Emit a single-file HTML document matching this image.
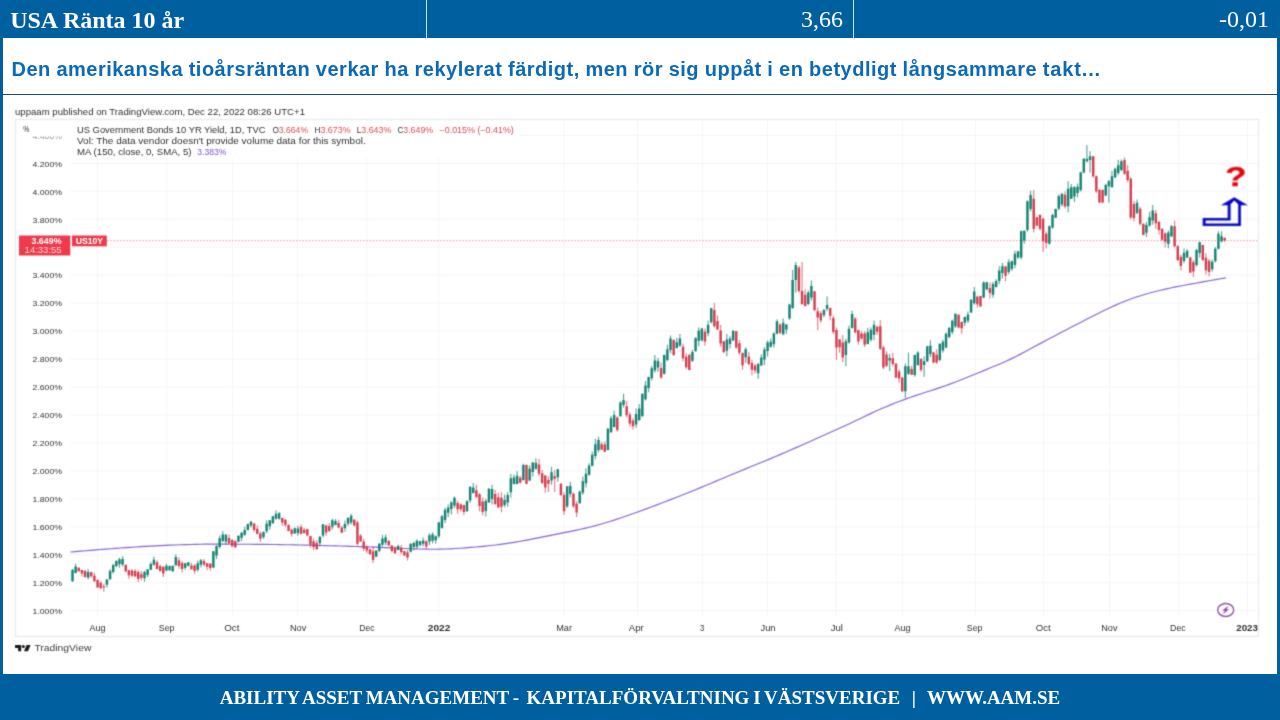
<!DOCTYPE html>
<html lang="sv">
<head>
<meta charset="utf-8">
<title>USA Ränta 10 år</title>
<style>
html,body{margin:0;padding:0}
body{width:1280px;height:720px;overflow:hidden;position:relative;background:#005f9f;font-family:"Liberation Serif","Times New Roman",serif}
.hd{position:absolute;top:0;height:38px;line-height:38px;color:#fff;font-size:24px;white-space:pre}
#t1{left:10.2px;font-weight:bold;transform:translateY(0.5px)}
#t2{right:437px;transform:translateY(0px)}
#t3{right:11px;transform:translateY(0px)}
.vl{position:absolute;top:0;width:1.5px;height:38px;background:#c6e6fa}
#main{position:absolute;left:3px;top:38px;width:1274px;height:636px;background:#fff}
#hl{position:absolute;left:11.5px;top:56px;transform:translateY(0.6px);word-spacing:-0.4px;margin:0;font:bold 20px/24px "Liberation Sans",Arial,sans-serif;color:#0a6ab8;white-space:pre;letter-spacing:0.52px}
#rule{position:absolute;left:3px;top:93.85px;width:1274px;height:1.25px;background:#1e4e78}
#ft{position:absolute;left:0;top:674px;width:1280px;height:46px;line-height:49px;text-align:center;color:#fff;font-weight:bold;font-size:19px;word-spacing:-0.95px;transform:translateY(-0.7px);white-space:pre}
</style>
</head>
<body>
<div class="hd" id="t1">USA Ränta 10 år</div>
<div class="hd" id="t2">3,66</div>
<div class="hd" id="t3">-0,01</div>
<div class="vl" style="left:425.9px"></div>
<div class="vl" style="left:852.65px"></div>
<div id="main"></div>
<h1 id="hl"><span style="letter-spacing:0.494px">Den amerikanska tioårsräntan verkar ha rekylerat färdigt, </span><span style="letter-spacing:0.505px">men rör sig uppåt i en betydligt långsammare </span><span style="letter-spacing:0.85px">takt...</span></h1>
<div id="rule"></div>
<svg width="1280" height="720" viewBox="0 0 1280 720" style="position:absolute;left:0;top:0" font-family="'Liberation Sans', Arial, sans-serif">
<defs><clipPath id="cl44"><rect x="20" y="136.6" width="50" height="6"/></clipPath><filter id="bl" x="0" y="0" width="1280" height="720" filterUnits="userSpaceOnUse" color-interpolation-filters="sRGB"><feConvolveMatrix order="3" kernelMatrix="1 4 1 4 16 4 1 4 1" edgeMode="none" preserveAlpha="false"/></filter><filter id="bx" x="0" y="0" width="1280" height="720" filterUnits="userSpaceOnUse" color-interpolation-filters="sRGB"><feConvolveMatrix order="3" kernelMatrix="1 5 1 5 25 5 1 5 1" edgeMode="none" preserveAlpha="false"/></filter><filter id="bt" x="1190" y="150" width="80" height="90" filterUnits="userSpaceOnUse" color-interpolation-filters="sRGB"><feConvolveMatrix order="3" kernelMatrix="1 2 1 2 4 2 1 2 1" edgeMode="none" preserveAlpha="false"/></filter></defs>
<g id="chart" filter="url(#bl)">
<rect x="15.5" y="119.5" width="1243" height="517" fill="none" stroke="#e9ebee" stroke-width="1.3"/>
<path d="M70 610.70H1258 M70 582.74H1258 M70 554.78H1258 M70 526.82H1258 M70 498.86H1258 M70 470.90H1258 M70 442.94H1258 M70 414.98H1258 M70 387.02H1258 M70 359.06H1258 M70 331.10H1258 M70 303.14H1258 M70 275.18H1258 M70 247.22H1258 M70 219.26H1258 M70 191.30H1258 M70 163.34H1258 M520 135.38H1258 M97.5 158V617 M167 158V617 M232.5 158V617 M297.5 158V617 M367 158V617 M439 158V617 M564 120V617 M637.5 120V617 M702.5 120V617 M767.5 120V617 M836.3 120V617 M902.5 120V617 M975.5 120V617 M1043.7 120V617 M1109.5 120V617 M1178.6 120V617 M1247.5 120V617" stroke="#f4f5f7" stroke-width="1" fill="none"/>
<path d="M107 240.7H1258" stroke="#e8606e" stroke-width="1" stroke-dasharray="1.5 1.7" fill="none" opacity="0.7"/>
<path d="M70.5 552.00 L75.5 551.58 L80.5 551.15 L85.5 550.73 L90.5 550.31 L95.5 549.91 L100.5 549.51 L105.5 549.12 L110.5 548.74 L115.5 548.36 L120.5 548.01 L125.5 547.66 L130.5 547.32 L135.5 547.00 L140.5 546.68 L145.5 546.37 L150.5 546.09 L155.5 545.83 L160.5 545.58 L165.5 545.35 L170.5 545.14 L175.5 544.95 L180.5 544.79 L185.5 544.64 L190.5 544.49 L195.5 544.36 L200.5 544.25 L205.5 544.18 L210.5 544.13 L215.5 544.10 L220.5 544.09 L225.5 544.10 L230.5 544.14 L235.5 544.17 L240.5 544.21 L245.5 544.25 L250.5 544.29 L255.5 544.33 L260.5 544.37 L265.5 544.41 L270.5 544.47 L275.5 544.54 L280.5 544.61 L285.5 544.70 L290.5 544.79 L295.5 544.89 L300.5 545.00 L305.5 545.12 L310.5 545.24 L315.5 545.36 L320.5 545.48 L325.5 545.61 L330.5 545.75 L335.5 545.89 L340.5 546.03 L345.5 546.18 L350.5 546.33 L355.5 546.48 L360.5 546.64 L365.5 546.81 L370.5 546.99 L375.5 547.17 L380.5 547.37 L385.5 547.59 L390.5 547.81 L395.5 548.05 L400.5 548.28 L405.5 548.50 L410.5 548.70 L415.5 548.89 L420.5 549.05 L425.5 549.19 L430.5 549.24 L435.5 549.22 L440.5 549.14 L445.5 549.01 L450.5 548.82 L455.5 548.54 L460.5 548.20 L465.5 547.83 L470.5 547.44 L475.5 547.03 L480.5 546.57 L485.5 546.06 L490.5 545.52 L495.5 544.96 L500.5 544.35 L505.5 543.67 L510.5 542.92 L515.5 542.12 L520.5 541.26 L525.5 540.35 L530.5 539.40 L535.5 538.40 L540.5 537.40 L545.5 536.40 L550.5 535.40 L555.5 534.40 L560.5 533.40 L565.5 532.40 L570.5 531.40 L575.5 530.39 L580.5 529.31 L585.5 528.16 L590.5 526.94 L595.5 525.65 L600.5 524.28 L605.5 522.81 L610.5 521.23 L615.5 519.62 L620.5 517.98 L625.5 516.29 L630.5 514.55 L635.5 512.77 L640.5 510.96 L645.5 509.14 L650.5 507.28 L655.5 505.40 L660.5 503.49 L665.5 501.56 L670.5 499.63 L675.5 497.68 L680.5 495.70 L685.5 493.70 L690.5 491.69 L695.5 489.66 L700.5 487.61 L705.5 485.54 L710.5 483.46 L715.5 481.37 L720.5 479.28 L725.5 477.18 L730.5 475.09 L735.5 473.01 L740.5 470.94 L745.5 468.88 L750.5 466.84 L755.5 464.80 L760.5 462.75 L765.5 460.69 L770.5 458.60 L775.5 456.49 L780.5 454.36 L785.5 452.20 L790.5 450.03 L795.5 447.85 L800.5 445.66 L805.5 443.46 L810.5 441.24 L815.5 439.01 L820.5 436.77 L825.5 434.52 L830.5 432.27 L835.5 430.02 L840.5 427.77 L845.5 425.48 L850.5 423.16 L855.5 420.80 L860.5 418.40 L865.5 415.98 L870.5 413.61 L875.5 411.29 L880.5 409.07 L885.5 406.93 L890.5 404.85 L895.5 402.83 L900.5 400.94 L905.5 399.11 L910.5 397.33 L915.5 395.60 L920.5 393.93 L925.5 392.30 L930.5 390.71 L935.5 389.08 L940.5 387.40 L945.5 385.68 L950.5 383.87 L955.5 381.98 L960.5 380.05 L965.5 378.07 L970.5 376.05 L975.5 374.01 L980.5 371.94 L985.5 369.88 L990.5 367.84 L995.5 365.80 L1000.5 363.67 L1005.5 361.45 L1010.5 359.11 L1015.5 356.68 L1020.5 354.13 L1025.5 351.49 L1030.5 348.77 L1035.5 346.07 L1040.5 343.38 L1045.5 340.70 L1050.5 338.04 L1055.5 335.41 L1060.5 332.78 L1065.5 330.16 L1070.5 327.55 L1075.5 324.96 L1080.5 322.39 L1085.5 319.83 L1090.5 317.29 L1095.5 314.76 L1100.5 312.27 L1105.5 309.80 L1110.5 307.40 L1115.5 305.11 L1120.5 302.94 L1125.5 300.92 L1130.5 299.05 L1135.5 297.32 L1140.5 295.73 L1145.5 294.22 L1150.5 292.81 L1155.5 291.50 L1160.5 290.26 L1165.5 289.08 L1170.5 287.96 L1175.5 286.93 L1180.5 285.97 L1185.5 285.04 L1190.5 284.12 L1195.5 283.23 L1200.5 282.33 L1205.5 281.42 L1210.5 280.48 L1215.5 279.67 L1220.5 278.76 L1225.5 277.85 L1225.5 277.50" stroke="#8462d2" stroke-width="1.15" fill="none" stroke-linejoin="round"/>
<path d="M72.50 568.80V582.05 M75.63 563.73V573.29 M88.16 569.17V579.38 M106.94 579.24V587.55 M110.07 568.91V580.28 M113.20 563.66V573.44 M116.33 560.23V566.67 M119.47 557.74V567.74 M122.60 556.28V566.59 M144.51 570.52V581.64 M147.64 568.95V576.99 M150.77 561.98V570.06 M153.91 556.42V565.62 M166.43 563.83V571.19 M169.56 565.55V570.52 M172.69 565.42V571.95 M175.82 554.23V566.52 M185.22 562.83V569.82 M188.35 561.96V566.49 M197.74 560.40V571.72 M200.87 558.95V567.49 M213.39 550.95V568.30 M216.53 545.17V558.88 M219.66 535.50V548.52 M222.79 531.02V542.30 M225.92 534.05V544.30 M238.44 535.55V542.03 M241.57 531.98V541.17 M244.70 526.72V536.03 M247.84 523.42V530.30 M250.97 520.87V527.61 M263.49 531.13V538.95 M266.62 520.35V533.34 M269.75 519.91V529.64 M272.88 515.92V523.99 M276.01 510.47V519.64 M279.15 511.92V519.59 M294.80 527.41V533.78 M297.93 525.66V535.81 M319.85 536.36V546.16 M322.98 523.93V537.43 M332.37 518.80V529.53 M335.50 519.02V525.29 M344.90 520.59V531.68 M348.03 517.24V525.78 M351.16 513.78V524.60 M376.21 550.30V557.10 M379.34 543.05V552.24 M382.47 535.06V546.18 M385.60 534.45V545.29 M398.12 544.62V550.37 M410.65 543.44V552.53 M413.78 541.71V550.39 M416.91 539.30V548.79 M420.04 540.93V546.50 M423.17 537.61V546.48 M429.43 533.29V545.00 M432.56 532.31V543.48 M435.70 535.48V543.70 M438.83 521.70V538.05 M441.96 515.01V528.47 M445.09 507.64V523.10 M448.22 504.20V517.10 M451.35 501.25V514.57 M454.48 496.43V507.78 M467.01 500.05V512.05 M470.14 486.46V502.82 M473.27 483.07V493.45 M485.79 498.83V516.44 M488.92 487.95V502.80 M492.05 484.70V504.46 M504.58 494.48V507.31 M507.71 491.92V506.84 M510.84 473.89V497.79 M513.97 474.39V484.47 M517.10 471.26V484.34 M523.36 463.80V480.80 M529.63 465.44V480.86 M532.76 462.05V476.48 M535.89 458.25V469.83 M551.54 466.76V484.83 M557.80 468.95V481.75 M567.20 485.95V508.05 M570.33 481.72V497.26 M579.72 490.52V503.76 M582.85 476.87V495.02 M585.98 468.19V487.57 M589.12 463.29V475.87 M592.25 451.57V466.24 M595.38 438.84V459.16 M598.51 436.86V452.21 M607.90 427.95V450.30 M611.03 416.08V432.68 M614.16 410.58V427.37 M620.42 401.30V416.55 M623.56 393.75V407.50 M636.08 408.45V427.74 M639.21 404.00V421.15 M642.34 393.45V416.55 M645.47 381.11V400.54 M648.60 376.64V392.36 M651.74 366.03V380.56 M654.87 355.06V372.81 M658.00 357.89V371.78 M664.26 354.70V374.55 M667.39 344.78V361.16 M670.52 335.38V353.13 M676.78 337.80V348.41 M679.91 334.03V346.90 M692.44 349.80V362.00 M695.57 337.05V351.53 M698.70 327.50V346.13 M701.83 328.12V341.38 M708.09 320.45V336.34 M711.22 307.90V323.50 M726.88 333.95V356.35 M730.01 336.34V348.40 M733.14 330.29V340.83 M745.66 347.14V362.80 M758.19 362.78V378.83 M761.32 354.32V365.82 M764.45 347.32V364.90 M767.58 340.40V356.52 M770.71 338.45V347.86 M773.84 332.42V347.47 M776.97 319.16V334.24 M783.24 318.43V335.36 M786.37 324.14V333.85 M789.50 304.03V319.63 M792.63 270.00V309.00 M795.76 262.00V292.50 M808.28 290.42V305.31 M811.42 280.40V300.62 M823.94 309.42V317.34 M827.07 296.25V311.25 M845.86 338.75V366.25 M848.99 325.54V343.70 M852.12 310.86V328.46 M867.77 327.83V344.31 M870.90 327.58V341.86 M874.04 320.39V340.20 M889.69 353.75V371.25 M905.35 363.75V398.00 M908.48 352.50V375.00 M914.74 354.70V376.80 M917.87 351.30V365.80 M924.13 356.25V376.75 M927.26 345.95V362.05 M930.39 340.16V357.10 M939.79 343.45V361.20 M942.92 339.63V352.78 M946.05 332.55V348.30 M949.18 326.83V338.17 M952.31 319.60V334.31 M955.44 313.45V328.05 M964.83 316.60V325.91 M967.97 311.41V323.04 M971.10 299.26V312.88 M974.23 287.10V304.50 M983.62 281.30V298.30 M986.75 281.87V290.52 M993.01 281.85V297.86 M996.14 278.90V287.39 M999.28 266.15V284.21 M1002.41 263.12V278.53 M1008.67 259.16V274.28 M1011.80 260.84V271.08 M1014.93 250.66V268.19 M1018.06 250.95V258.70 M1021.19 230.45V259.30 M1024.32 230.46V243.65 M1027.45 200.45V231.80 M1030.59 190.63V211.23 M1049.37 225.45V244.55 M1052.50 213.80V228.70 M1055.63 208.50V218.06 M1058.76 194.45V210.55 M1061.90 192.77V206.61 M1068.16 181.25V212.50 M1071.29 184.06V199.11 M1074.42 186.11V201.96 M1077.55 183.51V197.28 M1080.68 171.70V191.80 M1083.81 157.95V173.30 M1086.94 145.00V162.50 M1090.07 151.25V172.50 M1105.73 183.80V196.02 M1108.86 180.00V202.50 M1111.99 170.83V187.55 M1115.12 167.55V177.80 M1118.25 159.63V175.25 M1121.38 159.45V171.20 M1137.04 199.54V214.17 M1146.43 221.75V237.08 M1149.56 211.78V226.67 M1152.69 204.88V224.78 M1168.35 230.27V248.35 M1171.48 225.05V237.05 M1184.00 248.45V263.15 M1187.14 248.90V257.78 M1196.53 248.80V266.80 M1199.66 241.82V257.46 M1212.18 259.59V271.45 M1215.31 246.95V262.45 M1218.45 231.25V249.50 M1221.58 231.25V242.50" stroke="#148272" stroke-width="1.1" fill="none" opacity="0.75"/>
<path d="M78.76 567.42V571.44 M81.89 569.78V576.35 M85.02 570.41V577.86 M91.29 571.50V577.74 M94.42 572.83V582.29 M97.55 579.20V587.80 M100.68 581.35V588.67 M103.81 583.75V592.00 M125.73 564.20V572.45 M128.86 569.90V578.67 M131.99 569.11V577.23 M135.12 568.99V576.75 M138.25 570.10V582.29 M141.38 570.87V580.50 M157.04 560.32V569.31 M160.17 564.75V571.68 M163.30 565.64V576.92 M178.95 557.33V568.75 M182.08 560.98V572.39 M191.48 562.72V569.59 M194.61 564.20V573.75 M204.00 558.92V566.59 M207.13 562.91V570.14 M210.26 562.93V570.74 M229.05 534.61V543.92 M232.18 539.31V547.10 M235.31 540.33V547.94 M254.10 523.14V532.06 M257.23 525.42V534.19 M260.36 531.47V542.03 M282.28 517.64V525.95 M285.41 519.06V527.07 M288.54 524.14V531.30 M291.67 528.83V536.74 M301.06 524.15V534.44 M304.19 527.71V533.78 M307.32 528.50V536.25 M310.46 535.66V547.52 M313.59 538.50V549.89 M316.72 540.23V549.48 M326.11 524.74V535.84 M329.24 523.12V531.85 M338.63 519.66V528.26 M341.77 526.01V532.97 M354.29 518.89V526.22 M357.42 520.70V545.55 M360.55 534.16V541.80 M363.68 538.70V550.77 M366.81 545.31V553.37 M369.94 548.86V554.60 M373.08 546.25V563.00 M388.73 539.67V545.82 M391.86 545.23V552.40 M394.99 546.32V553.63 M401.25 544.91V554.19 M404.39 550.42V555.74 M407.52 550.00V560.50 M426.30 540.55V548.50 M457.61 500.69V513.76 M460.74 503.22V511.38 M463.88 504.66V515.28 M476.40 484.65V498.10 M479.53 493.04V511.42 M482.66 497.16V515.14 M495.18 489.72V505.08 M498.32 492.84V507.79 M501.45 492.29V512.17 M520.23 475.67V483.26 M526.49 464.20V484.55 M539.02 458.92V476.00 M542.15 469.99V483.55 M545.28 475.19V492.89 M548.41 476.25V492.00 M554.67 470.00V492.00 M560.94 482.95V496.20 M564.07 492.50V515.00 M573.46 492.55V508.05 M576.59 501.25V517.00 M601.64 442.00V450.01 M604.77 441.41V452.05 M617.29 416.30V431.80 M626.69 400.73V417.56 M629.82 412.26V426.62 M632.95 418.21V429.53 M661.13 362.62V378.81 M673.65 339.20V355.80 M683.04 343.59V361.54 M686.18 353.61V369.37 M689.31 353.80V370.30 M704.96 328.43V345.85 M714.35 303.00V327.50 M717.49 315.51V329.82 M720.62 325.01V346.65 M723.75 340.94V353.19 M736.27 330.95V348.70 M739.40 340.04V354.88 M742.53 352.57V369.64 M748.80 352.02V365.20 M751.93 359.76V375.18 M755.06 364.29V373.61 M780.11 323.30V333.92 M798.89 265.70V292.80 M802.02 262.00V305.00 M805.15 289.29V306.31 M814.55 290.95V311.20 M817.68 307.50V330.00 M820.81 310.98V322.72 M830.20 307.69V320.14 M833.33 315.80V334.20 M836.46 327.50V360.00 M839.59 339.15V352.79 M842.73 335.00V362.00 M855.25 316.95V333.30 M858.38 329.84V344.72 M861.51 331.23V339.60 M864.64 331.37V347.01 M877.17 326.29V334.88 M880.30 320.00V350.00 M883.43 345.70V369.30 M886.56 351.27V367.02 M892.82 352.63V366.21 M895.95 362.95V378.30 M899.08 369.40V382.89 M902.21 377.20V392.05 M911.61 365.73V375.03 M921.00 358.40V372.12 M933.52 351.70V363.30 M936.66 349.16V363.81 M958.57 313.80V328.30 M961.70 321.53V333.67 M977.36 295.64V307.34 M980.49 295.71V306.82 M989.88 282.41V298.59 M1005.54 266.08V281.27 M1033.72 190.00V232.50 M1036.85 216.82V226.10 M1039.98 214.20V230.55 M1043.11 217.50V252.00 M1046.24 231.56V248.44 M1065.03 191.61V208.58 M1093.21 155.95V178.05 M1096.34 175.45V193.05 M1099.47 188.80V202.80 M1102.60 189.20V203.30 M1124.52 157.50V175.00 M1127.65 165.21V182.28 M1130.78 176.95V219.30 M1133.91 200.77V221.17 M1140.17 206.95V225.55 M1143.30 223.45V235.30 M1155.83 209.98V228.82 M1158.96 221.28V234.45 M1162.09 227.92V240.93 M1165.22 232.28V247.17 M1174.61 220.50V247.50 M1177.74 245.05V261.20 M1180.87 254.67V270.42 M1190.27 256.70V273.30 M1193.40 260.10V277.08 M1202.79 244.70V261.20 M1205.92 253.24V274.60 M1209.05 258.66V276.48 M1224.71 237.20V241.70" stroke="#d43d4e" stroke-width="1.1" fill="none" opacity="0.7"/>
<path d="M71.28 570.00h2.45V581.25h-2.45z M74.41 566.53h2.45V572.99h-2.45z M86.93 571.97h2.45V577.38h-2.45z M105.72 579.54h2.45V584.75h-2.45z M108.85 570.91h2.45V578.88h-2.45z M111.98 565.06h2.45V572.04h-2.45z M115.11 561.03h2.45V566.37h-2.45z M118.24 559.14h2.45V564.34h-2.45z M121.37 559.08h2.45V564.59h-2.45z M143.29 571.92h2.45V578.24h-2.45z M146.42 569.25h2.45V574.99h-2.45z M149.55 563.98h2.45V569.76h-2.45z M152.68 559.82h2.45V564.82h-2.45z M165.21 565.83h2.45V570.39h-2.45z M168.34 566.35h2.45V570.22h-2.45z M171.47 565.72h2.45V571.15h-2.45z M174.60 557.03h2.45V565.12h-2.45z M183.99 563.13h2.45V567.82h-2.45z M187.12 562.26h2.45V565.69h-2.45z M196.52 563.20h2.45V569.72h-2.45z M199.65 560.35h2.45V564.69h-2.45z M212.17 551.25h2.45V567.50h-2.45z M215.30 545.97h2.45V555.48h-2.45z M218.43 538.30h2.45V547.12h-2.45z M221.56 534.42h2.45V540.90h-2.45z M224.69 534.85h2.45V541.50h-2.45z M237.22 535.85h2.45V541.73h-2.45z M240.35 532.78h2.45V537.77h-2.45z M243.48 530.12h2.45V534.63h-2.45z M246.61 524.22h2.45V530.00h-2.45z M249.74 521.67h2.45V525.61h-2.45z M262.27 531.93h2.45V536.95h-2.45z M265.40 523.75h2.45V531.34h-2.45z M268.53 520.21h2.45V526.24h-2.45z M271.66 516.22h2.45V523.19h-2.45z M274.79 513.87h2.45V518.84h-2.45z M277.92 513.32h2.45V518.79h-2.45z M293.58 528.21h2.45V533.48h-2.45z M296.71 528.46h2.45V533.01h-2.45z M318.62 536.66h2.45V543.36h-2.45z M321.75 524.23h2.45V535.43h-2.45z M331.15 520.20h2.45V526.73h-2.45z M334.28 521.02h2.45V524.99h-2.45z M343.67 523.99h2.45V528.28h-2.45z M346.80 518.04h2.45V523.78h-2.45z M349.93 515.78h2.45V522.60h-2.45z M374.98 550.60h2.45V556.80h-2.45z M378.11 543.85h2.45V550.84h-2.45z M381.24 538.46h2.45V544.78h-2.45z M384.37 537.25h2.45V542.49h-2.45z M396.90 546.02h2.45V550.07h-2.45z M409.42 543.74h2.45V551.73h-2.45z M412.55 543.11h2.45V546.99h-2.45z M415.68 540.70h2.45V546.79h-2.45z M418.82 541.23h2.45V545.10h-2.45z M421.95 540.41h2.45V543.68h-2.45z M428.21 535.29h2.45V541.60h-2.45z M431.34 534.31h2.45V540.68h-2.45z M434.47 536.28h2.45V540.30h-2.45z M437.60 522.50h2.45V536.25h-2.45z M440.73 516.21h2.45V528.07h-2.45z M443.86 509.84h2.45V519.90h-2.45z M446.99 507.40h2.45V512.70h-2.45z M450.13 502.45h2.45V509.07h-2.45z M453.26 497.63h2.45V505.58h-2.45z M465.78 501.25h2.45V511.25h-2.45z M468.91 486.86h2.45V500.62h-2.45z M472.04 487.47h2.45V493.05h-2.45z M484.57 501.03h2.45V510.94h-2.45z M487.70 488.75h2.45V502.50h-2.45z M490.83 489.10h2.45V498.96h-2.45z M503.35 499.98h2.45V505.11h-2.45z M506.48 495.12h2.45V502.44h-2.45z M509.61 478.29h2.45V492.29h-2.45z M512.75 477.59h2.45V484.07h-2.45z M515.88 475.66h2.45V483.94h-2.45z M522.14 465.00h2.45V480.00h-2.45z M528.40 468.64h2.45V480.46h-2.45z M531.53 462.45h2.45V472.08h-2.45z M534.66 462.65h2.45V468.63h-2.45z M550.32 472.26h2.45V480.43h-2.45z M556.58 469.35h2.45V477.35h-2.45z M565.97 486.25h2.45V506.25h-2.45z M569.10 486.12h2.45V494.06h-2.45z M578.50 491.72h2.45V503.36h-2.45z M581.63 481.27h2.45V492.82h-2.45z M584.76 473.69h2.45V483.17h-2.45z M587.89 465.49h2.45V474.67h-2.45z M591.02 454.77h2.45V465.84h-2.45z M594.15 444.34h2.45V455.96h-2.45z M597.28 440.06h2.45V450.01h-2.45z M606.68 428.75h2.45V450.00h-2.45z M609.81 418.28h2.45V432.28h-2.45z M612.94 414.98h2.45V426.97h-2.45z M619.20 402.50h2.45V416.25h-2.45z M622.33 400.00h2.45V405.00h-2.45z M634.85 413.95h2.45V424.54h-2.45z M637.99 408.40h2.45V419.95h-2.45z M641.12 393.75h2.45V416.25h-2.45z M644.25 385.51h2.45V399.34h-2.45z M647.38 377.04h2.45V387.96h-2.45z M650.51 368.23h2.45V378.36h-2.45z M653.64 360.56h2.45V370.61h-2.45z M656.77 361.09h2.45V367.38h-2.45z M663.03 355.00h2.45V373.75h-2.45z M666.16 349.18h2.45V359.96h-2.45z M669.30 338.58h2.45V349.93h-2.45z M675.56 342.20h2.45V348.01h-2.45z M678.69 338.43h2.45V345.70h-2.45z M691.21 352.00h2.45V360.80h-2.45z M694.34 338.25h2.45V351.13h-2.45z M697.47 330.70h2.45V340.63h-2.45z M700.61 328.52h2.45V340.18h-2.45z M706.87 324.85h2.45V333.14h-2.45z M710.00 308.30h2.45V322.30h-2.45z M725.65 339.45h2.45V350.85h-2.45z M728.78 338.54h2.45V344.00h-2.45z M731.92 330.69h2.45V340.43h-2.45z M744.44 349.34h2.45V357.30h-2.45z M756.96 363.98h2.45V373.33h-2.45z M760.09 357.52h2.45V365.42h-2.45z M763.23 349.52h2.45V359.40h-2.45z M766.36 342.60h2.45V351.02h-2.45z M769.49 341.65h2.45V346.66h-2.45z M772.62 333.62h2.45V344.27h-2.45z M775.75 321.36h2.45V333.84h-2.45z M782.01 322.83h2.45V334.16h-2.45z M785.14 324.54h2.45V329.45h-2.45z M788.27 304.43h2.45V318.43h-2.45z M791.40 280.00h2.45V308.00h-2.45z M794.54 265.00h2.45V280.00h-2.45z M807.06 292.62h2.45V304.11h-2.45z M810.19 285.90h2.45V297.42h-2.45z M822.71 309.82h2.45V315.14h-2.45z M825.85 305.00h2.45V308.75h-2.45z M844.63 341.25h2.45V355.00h-2.45z M847.76 328.74h2.45V342.50h-2.45z M850.89 314.06h2.45V328.06h-2.45z M866.55 332.23h2.45V343.91h-2.45z M869.68 329.78h2.45V339.66h-2.45z M872.81 324.79h2.45V334.70h-2.45z M888.47 358.00h2.45V360.50h-2.45z M904.12 366.25h2.45V391.25h-2.45z M907.25 366.25h2.45V373.75h-2.45z M913.51 355.00h2.45V375.00h-2.45z M916.64 352.50h2.45V365.00h-2.45z M922.91 361.25h2.45V365.00h-2.45z M926.04 346.25h2.45V361.25h-2.45z M929.17 345.66h2.45V353.90h-2.45z M938.56 343.75h2.45V360.00h-2.45z M941.69 341.83h2.45V350.58h-2.45z M944.82 333.75h2.45V347.50h-2.45z M947.95 328.03h2.45V336.97h-2.45z M951.09 320.80h2.45V332.11h-2.45z M954.22 313.75h2.45V326.25h-2.45z M963.61 317.00h2.45V322.71h-2.45z M966.74 314.61h2.45V320.84h-2.45z M969.87 299.66h2.45V312.48h-2.45z M973.00 291.50h2.45V303.30h-2.45z M982.40 282.50h2.45V297.50h-2.45z M985.53 282.27h2.45V289.32h-2.45z M991.79 284.05h2.45V294.66h-2.45z M994.92 281.10h2.45V286.99h-2.45z M998.05 270.55h2.45V281.01h-2.45z M1001.18 266.32h2.45V273.03h-2.45z M1007.44 262.36h2.45V272.08h-2.45z M1010.57 261.24h2.45V268.88h-2.45z M1013.71 253.86h2.45V264.99h-2.45z M1016.84 251.25h2.45V257.50h-2.45z M1019.97 231.25h2.45V257.50h-2.45z M1023.10 230.86h2.45V240.45h-2.45z M1026.23 201.25h2.45V230.00h-2.45z M1029.36 195.03h2.45V209.03h-2.45z M1048.15 226.25h2.45V243.75h-2.45z M1051.28 215.00h2.45V227.50h-2.45z M1054.41 208.90h2.45V217.66h-2.45z M1057.54 196.25h2.45V208.75h-2.45z M1060.67 193.97h2.45V204.41h-2.45z M1066.93 188.75h2.45V206.25h-2.45z M1070.06 187.26h2.45V198.71h-2.45z M1073.20 187.31h2.45V196.46h-2.45z M1076.33 186.71h2.45V192.88h-2.45z M1079.46 172.50h2.45V190.00h-2.45z M1082.59 158.75h2.45V172.50h-2.45z M1085.72 158.75h2.45V161.25h-2.45z M1088.85 156.25h2.45V160.00h-2.45z M1104.51 185.00h2.45V195.62h-2.45z M1107.64 181.25h2.45V186.25h-2.45z M1110.77 176.33h2.45V187.15h-2.45z M1113.90 168.75h2.45V177.50h-2.45z M1117.03 165.13h2.45V173.05h-2.45z M1120.16 161.25h2.45V170.00h-2.45z M1135.82 202.74h2.45V212.97h-2.45z M1145.21 224.95h2.45V232.68h-2.45z M1148.34 217.28h2.45V225.47h-2.45z M1151.47 210.38h2.45V220.38h-2.45z M1167.12 232.47h2.45V243.95h-2.45z M1170.26 226.25h2.45V236.25h-2.45z M1182.78 252.85h2.45V260.95h-2.45z M1185.91 251.10h2.45V257.38h-2.45z M1195.30 250.00h2.45V265.00h-2.45z M1198.43 242.22h2.45V253.06h-2.45z M1210.96 261.79h2.45V269.25h-2.45z M1214.09 248.75h2.45V261.25h-2.45z M1217.22 233.75h2.45V248.75h-2.45z M1220.35 236.25h2.45V241.25h-2.45z" fill="#148272"/>
<path d="M77.54 567.72h2.45V571.14h-2.45z M80.67 570.08h2.45V573.55h-2.45z M83.80 570.71h2.45V577.06h-2.45z M90.06 572.30h2.45V576.34h-2.45z M93.19 575.63h2.45V580.89h-2.45z M96.32 580.00h2.45V587.50h-2.45z M99.45 582.75h2.45V588.37h-2.45z M102.59 586.25h2.45V587.50h-2.45z M124.50 565.00h2.45V571.25h-2.45z M127.63 570.20h2.45V575.27h-2.45z M130.76 570.51h2.45V575.83h-2.45z M133.90 570.99h2.45V576.45h-2.45z M137.03 572.10h2.45V578.89h-2.45z M140.16 574.27h2.45V577.70h-2.45z M155.81 562.32h2.45V569.01h-2.45z M158.94 566.15h2.45V570.88h-2.45z M162.07 567.04h2.45V573.52h-2.45z M177.73 560.13h2.45V565.95h-2.45z M180.86 562.98h2.45V568.99h-2.45z M190.25 565.52h2.45V569.29h-2.45z M193.38 565.60h2.45V570.95h-2.45z M202.78 560.92h2.45V564.59h-2.45z M205.91 563.21h2.45V566.74h-2.45z M209.04 563.73h2.45V567.94h-2.45z M227.82 538.01h2.45V543.12h-2.45z M230.96 540.11h2.45V546.30h-2.45z M234.09 541.13h2.45V547.14h-2.45z M252.87 523.44h2.45V530.06h-2.45z M256.00 528.82h2.45V533.89h-2.45z M259.13 533.47h2.45V538.63h-2.45z M281.05 517.94h2.45V522.55h-2.45z M284.18 519.86h2.45V525.07h-2.45z M287.31 524.94h2.45V531.00h-2.45z M290.44 529.63h2.45V533.94h-2.45z M299.84 526.95h2.45V533.64h-2.45z M302.97 529.71h2.45V532.98h-2.45z M306.10 529.30h2.45V535.45h-2.45z M309.23 535.96h2.45V544.72h-2.45z M312.36 541.30h2.45V547.09h-2.45z M315.49 543.03h2.45V549.18h-2.45z M324.89 525.54h2.45V532.44h-2.45z M328.02 525.92h2.45V531.05h-2.45z M337.41 523.06h2.45V527.46h-2.45z M340.54 527.41h2.45V532.67h-2.45z M353.06 519.69h2.45V525.42h-2.45z M356.20 522.50h2.45V543.75h-2.45z M359.33 535.56h2.45V541.50h-2.45z M362.46 541.50h2.45V548.77h-2.45z M365.59 546.71h2.45V550.57h-2.45z M368.72 549.16h2.45V554.30h-2.45z M371.85 551.25h2.45V560.00h-2.45z M387.51 541.07h2.45V545.52h-2.45z M390.64 545.53h2.45V551.00h-2.45z M393.77 547.72h2.45V553.33h-2.45z M400.03 547.71h2.45V552.19h-2.45z M403.16 551.22h2.45V555.44h-2.45z M406.29 552.50h2.45V557.50h-2.45z M425.08 541.35h2.45V546.50h-2.45z M456.39 502.89h2.45V509.36h-2.45z M459.52 504.42h2.45V509.18h-2.45z M462.65 505.06h2.45V512.08h-2.45z M475.17 490.15h2.45V496.90h-2.45z M478.30 494.24h2.45V505.92h-2.45z M481.44 501.56h2.45V511.94h-2.45z M493.96 494.12h2.45V503.88h-2.45z M497.09 497.24h2.45V507.39h-2.45z M500.22 497.79h2.45V506.67h-2.45z M519.01 477.87h2.45V482.86h-2.45z M525.27 465.00h2.45V483.75h-2.45z M537.79 464.42h2.45V473.80h-2.45z M540.92 473.19h2.45V483.15h-2.45z M544.06 475.59h2.45V487.39h-2.45z M547.19 480.00h2.45V483.75h-2.45z M553.45 476.25h2.45V478.75h-2.45z M559.71 483.75h2.45V495.00h-2.45z M562.84 495.00h2.45V511.25h-2.45z M572.24 493.75h2.45V506.25h-2.45z M575.37 503.75h2.45V512.50h-2.45z M600.41 444.20h2.45V449.61h-2.45z M603.54 444.61h2.45V451.65h-2.45z M616.07 417.50h2.45V430.00h-2.45z M625.46 406.23h2.45V415.36h-2.45z M628.59 414.46h2.45V423.42h-2.45z M631.72 420.41h2.45V426.33h-2.45z M659.90 368.12h2.45V377.61h-2.45z M672.43 340.00h2.45V355.00h-2.45z M681.82 346.79h2.45V358.34h-2.45z M684.95 356.81h2.45V367.17h-2.45z M688.08 355.00h2.45V370.00h-2.45z M703.74 331.63h2.45V341.45h-2.45z M713.13 310.00h2.45V326.25h-2.45z M716.26 321.01h2.45V329.42h-2.45z M719.39 330.51h2.45V343.45h-2.45z M722.52 341.34h2.45V351.99h-2.45z M735.05 331.25h2.45V347.50h-2.45z M738.18 343.24h2.45V352.68h-2.45z M741.31 352.97h2.45V365.24h-2.45z M747.57 356.42h2.45V364.00h-2.45z M750.70 362.96h2.45V369.68h-2.45z M753.83 365.49h2.45V370.41h-2.45z M778.88 324.50h2.45V332.72h-2.45z M797.67 267.50h2.45V291.00h-2.45z M800.80 291.00h2.45V304.00h-2.45z M803.93 294.79h2.45V305.91h-2.45z M813.32 291.25h2.45V310.00h-2.45z M816.45 311.25h2.45V317.50h-2.45z M819.58 313.18h2.45V320.52h-2.45z M828.98 308.09h2.45V315.74h-2.45z M832.11 318.00h2.45V332.00h-2.45z M835.24 330.00h2.45V347.50h-2.45z M838.37 339.55h2.45V347.29h-2.45z M841.50 342.50h2.45V357.50h-2.45z M854.02 318.75h2.45V332.50h-2.45z M857.16 330.24h2.45V341.52h-2.45z M860.29 333.43h2.45V338.40h-2.45z M863.42 333.57h2.45V344.81h-2.45z M875.94 326.69h2.45V331.68h-2.45z M879.07 326.25h2.45V348.75h-2.45z M882.20 347.50h2.45V367.50h-2.45z M885.33 354.47h2.45V365.82h-2.45z M891.60 358.13h2.45V364.01h-2.45z M894.73 363.75h2.45V377.50h-2.45z M897.86 371.60h2.45V378.49h-2.45z M900.99 377.50h2.45V391.25h-2.45z M910.38 368.93h2.45V374.63h-2.45z M919.78 358.80h2.45V369.92h-2.45z M932.30 352.50h2.45V362.50h-2.45z M935.43 354.66h2.45V362.61h-2.45z M957.35 315.00h2.45V327.50h-2.45z M960.48 321.93h2.45V328.17h-2.45z M976.13 296.84h2.45V304.14h-2.45z M979.26 296.11h2.45V306.42h-2.45z M988.66 287.91h2.45V293.09h-2.45z M1004.31 266.48h2.45V275.77h-2.45z M1032.49 198.75h2.45V228.75h-2.45z M1035.62 217.22h2.45V225.70h-2.45z M1038.75 215.00h2.45V228.75h-2.45z M1041.88 218.75h2.45V241.25h-2.45z M1045.02 233.76h2.45V242.94h-2.45z M1063.80 194.81h2.45V206.38h-2.45z M1091.98 156.25h2.45V176.25h-2.45z M1095.11 176.25h2.45V191.25h-2.45z M1098.24 190.00h2.45V202.50h-2.45z M1101.37 190.00h2.45V202.50h-2.45z M1123.29 160.00h2.45V173.75h-2.45z M1126.42 170.71h2.45V180.08h-2.45z M1129.55 178.75h2.45V217.50h-2.45z M1132.68 203.97h2.45V217.97h-2.45z M1138.95 208.75h2.45V223.75h-2.45z M1142.08 223.75h2.45V235.00h-2.45z M1154.60 213.18h2.45V223.32h-2.45z M1157.73 221.68h2.45V230.05h-2.45z M1160.86 229.12h2.45V239.73h-2.45z M1163.99 233.48h2.45V241.67h-2.45z M1173.39 226.25h2.45V246.25h-2.45z M1176.52 246.25h2.45V260.00h-2.45z M1179.65 256.87h2.45V266.02h-2.45z M1189.04 257.50h2.45V272.50h-2.45z M1192.17 262.30h2.45V271.58h-2.45z M1201.57 245.00h2.45V260.00h-2.45z M1204.70 257.64h2.45V270.20h-2.45z M1207.83 260.86h2.45V272.08h-2.45z M1223.48 238.00h2.45V240.50h-2.45z" fill="#d43d4e"/>
<rect x="19" y="235.5" width="51.3" height="20" fill="#ee3a4a"/>
<rect x="72" y="235.5" width="34.8" height="10.8" fill="#ee3a4a"/>
<g transform="translate(1225.7 610)"><ellipse rx="8" ry="6.5" fill="#fff" stroke="#9157a6" stroke-width="1.4"/><path d="M2.1 -3.5L-2.9 0.4H-0.2L-2.3 3.5L2.8 -0.6H0.2Z" fill="#9236ac" stroke="#9236ac" stroke-width="0.5" stroke-linejoin="round"/></g>
<g fill="#1a1a1a"><path d="M15 645h6.2v6.3h-3.1v-3.2H15z"/><circle cx="23.3" cy="646.5" r="1.5"/><path d="M26.6 645h4l-2.7 6.3h-3.9z"/></g>
</g>
<g id="labels" filter="url(#bx)">
<text x="15" y="115" font-size="8.2" fill="#303030" textLength="290" lengthAdjust="spacingAndGlyphs">uppaam published on TradingView.com, Dec 22, 2022 08:26 UTC+1</text>
<text x="23.3" y="132.4" font-size="8.2" fill="#303030" textLength="6.2" lengthAdjust="spacingAndGlyphs">%</text>
<text x="77" y="132.8" font-size="8.2" fill="#303030" textLength="188.5" lengthAdjust="spacingAndGlyphs">US Government Bonds 10 YR Yield, 1D, TVC</text>
<text x="272.5" y="132.8" font-size="8.2" fill="#303030">O</text>
<text x="278.8" y="132.8" font-size="8.2" fill="#d94a57" textLength="29.3" lengthAdjust="spacingAndGlyphs">3.664%</text>
<text x="314.5" y="132.8" font-size="8.2" fill="#303030">H</text>
<text x="320.5" y="132.8" font-size="8.2" fill="#d94a57" textLength="30" lengthAdjust="spacingAndGlyphs">3.673%</text>
<text x="356.8" y="132.8" font-size="8.2" fill="#303030">L</text>
<text x="361.3" y="132.8" font-size="8.2" fill="#d94a57" textLength="30" lengthAdjust="spacingAndGlyphs">3.643%</text>
<text x="397.5" y="132.8" font-size="8.2" fill="#303030">C</text>
<text x="403.3" y="132.8" font-size="8.2" fill="#d94a57" textLength="29.8" lengthAdjust="spacingAndGlyphs">3.649%</text>
<text x="439.5" y="132.8" font-size="8.2" fill="#d94a57" textLength="74.3" lengthAdjust="spacingAndGlyphs">−0.015% (−0.41%)</text>
<text x="77" y="143.9" font-size="8.2" fill="#303030" textLength="288.7" lengthAdjust="spacingAndGlyphs">Vol: The data vendor doesn't provide volume data for this symbol.</text>
<text x="77" y="154.7" font-size="8.2" fill="#303030" textLength="114.5" lengthAdjust="spacingAndGlyphs">MA (150, close, 0, SMA, 5)</text>
<text x="197.3" y="154.7" font-size="8.2" fill="#7a55d0" textLength="29.2" lengthAdjust="spacingAndGlyphs">3.383%</text>
<text x="62" y="138.57999999999993" font-size="8.2" fill="#303030" text-anchor="end" textLength="29.5" lengthAdjust="spacingAndGlyphs" clip-path="url(#cl44)" opacity="0.6">4.400%</text>
<text x="62" y="166.5" font-size="7.9" fill="#303030" text-anchor="end" textLength="29.5" lengthAdjust="spacingAndGlyphs">4.200%</text>
<text x="62" y="194.5" font-size="7.9" fill="#303030" text-anchor="end" textLength="29.5" lengthAdjust="spacingAndGlyphs">4.000%</text>
<text x="62" y="222.5" font-size="7.9" fill="#303030" text-anchor="end" textLength="29.5" lengthAdjust="spacingAndGlyphs">3.800%</text>
<text x="62" y="278.4" font-size="7.9" fill="#303030" text-anchor="end" textLength="29.5" lengthAdjust="spacingAndGlyphs">3.400%</text>
<text x="62" y="306.3" font-size="7.9" fill="#303030" text-anchor="end" textLength="29.5" lengthAdjust="spacingAndGlyphs">3.200%</text>
<text x="62" y="334.3" font-size="7.9" fill="#303030" text-anchor="end" textLength="29.5" lengthAdjust="spacingAndGlyphs">3.000%</text>
<text x="62" y="362.3" font-size="7.9" fill="#303030" text-anchor="end" textLength="29.5" lengthAdjust="spacingAndGlyphs">2.800%</text>
<text x="62" y="390.2" font-size="7.9" fill="#303030" text-anchor="end" textLength="29.5" lengthAdjust="spacingAndGlyphs">2.600%</text>
<text x="62" y="418.2" font-size="7.9" fill="#303030" text-anchor="end" textLength="29.5" lengthAdjust="spacingAndGlyphs">2.400%</text>
<text x="62" y="446.1" font-size="7.9" fill="#303030" text-anchor="end" textLength="29.5" lengthAdjust="spacingAndGlyphs">2.200%</text>
<text x="62" y="474.1" font-size="7.9" fill="#303030" text-anchor="end" textLength="29.5" lengthAdjust="spacingAndGlyphs">2.000%</text>
<text x="62" y="502.1" font-size="7.9" fill="#303030" text-anchor="end" textLength="29.5" lengthAdjust="spacingAndGlyphs">1.800%</text>
<text x="62" y="530.0" font-size="7.9" fill="#303030" text-anchor="end" textLength="29.5" lengthAdjust="spacingAndGlyphs">1.600%</text>
<text x="62" y="558.0" font-size="7.9" fill="#303030" text-anchor="end" textLength="29.5" lengthAdjust="spacingAndGlyphs">1.400%</text>
<text x="62" y="585.9" font-size="7.9" fill="#303030" text-anchor="end" textLength="29.5" lengthAdjust="spacingAndGlyphs">1.200%</text>
<text x="62" y="613.9" font-size="7.9" fill="#303030" text-anchor="end" textLength="29.5" lengthAdjust="spacingAndGlyphs">1.000%</text>
<text x="46.5" y="243.7" font-size="8.2" fill="#fff" text-anchor="middle" font-weight="bold" textLength="30" lengthAdjust="spacingAndGlyphs">3.649%</text>
<text x="61.6" y="252.8" font-size="8.2" fill="#ffd0d4" text-anchor="end" textLength="37" lengthAdjust="spacingAndGlyphs">14:33:55</text>
<text x="89.4" y="243.7" font-size="8.2" fill="#fff" text-anchor="middle" font-weight="bold" textLength="27.5" lengthAdjust="spacingAndGlyphs">US10Y</text>
<text x="89.5" y="630.6" font-size="8.2" fill="#303030" textLength="16" lengthAdjust="spacingAndGlyphs">Aug</text>
<text x="158.75" y="630.6" font-size="8.2" fill="#303030" textLength="15.75" lengthAdjust="spacingAndGlyphs">Sep</text>
<text x="224.25" y="630.6" font-size="8.2" fill="#303030" textLength="15.25" lengthAdjust="spacingAndGlyphs">Oct</text>
<text x="290" y="630.6" font-size="8.2" fill="#303030" textLength="16.25" lengthAdjust="spacingAndGlyphs">Nov</text>
<text x="359.25" y="630.6" font-size="8.2" fill="#303030" textLength="15.25" lengthAdjust="spacingAndGlyphs">Dec</text>
<text x="427.8" y="630.6" font-size="9" fill="#2e2e2e" font-weight="bold" textLength="22.6" lengthAdjust="spacingAndGlyphs">2022</text>
<text x="556.25" y="630.6" font-size="8.2" fill="#303030" textLength="15.75" lengthAdjust="spacingAndGlyphs">Mar</text>
<text x="628.75" y="630.6" font-size="8.2" fill="#303030" textLength="15" lengthAdjust="spacingAndGlyphs">Apr</text>
<text x="700" y="630.6" font-size="8.2" fill="#303030" textLength="4.3" lengthAdjust="spacingAndGlyphs">3</text>
<text x="760.5" y="630.6" font-size="8.2" fill="#303030" textLength="15" lengthAdjust="spacingAndGlyphs">Jun</text>
<text x="830.75" y="630.6" font-size="8.2" fill="#303030" textLength="12.25" lengthAdjust="spacingAndGlyphs">Jul</text>
<text x="894.5" y="630.6" font-size="8.2" fill="#303030" textLength="16" lengthAdjust="spacingAndGlyphs">Aug</text>
<text x="966.75" y="630.6" font-size="8.2" fill="#303030" textLength="15.75" lengthAdjust="spacingAndGlyphs">Sep</text>
<text x="1035.75" y="630.6" font-size="8.2" fill="#303030" textLength="15" lengthAdjust="spacingAndGlyphs">Oct</text>
<text x="1101.25" y="630.6" font-size="8.2" fill="#303030" textLength="16.25" lengthAdjust="spacingAndGlyphs">Nov</text>
<text x="1170" y="630.6" font-size="8.2" fill="#303030" textLength="15.75" lengthAdjust="spacingAndGlyphs">Dec</text>
<text x="1236.25" y="630.6" font-size="9" fill="#2e2e2e" font-weight="bold" textLength="21.75" lengthAdjust="spacingAndGlyphs">2023</text>
<text x="34.4" y="651.4" font-size="8.6" fill="#3a3a3a" textLength="57" lengthAdjust="spacingAndGlyphs">TradingView</text>
</g>
<text x="1235.9" y="185.9" font-size="27.4" font-weight="bold" fill="#e4060e" stroke="#e4060e" stroke-width="0.4" text-anchor="middle" textLength="21.2" lengthAdjust="spacingAndGlyphs" filter="url(#bt)">?</text>
<path fill-rule="evenodd" d="M1202.7 218.1H1227.7V205.3H1220.8L1234.3 197.3L1247.8 205.3H1240.9V225.9H1202.7Z M1205.6 220.6V223.6H1238.2V204.2L1234.3 200.6L1230.6 204.2V220.6Z" fill="#0404c6" filter="url(#bt)"/>
</svg>
<div id="ft">ABILITY ASSET MANAGEMENT -  KAPITALFÖRVALTNING I VÄSTSVERIGE   |   WWW.AAM.SE</div>
</body>
</html>
